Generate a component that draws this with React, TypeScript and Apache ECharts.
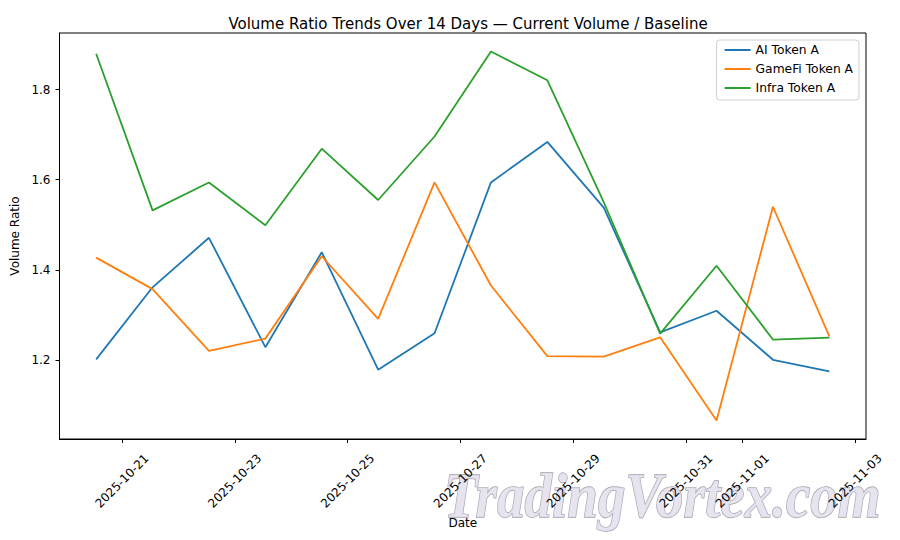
import React, { useEffect, useRef } from "react";
import * as echarts from "echarts";

// Daily sample times (UTC)
const timestamps = [
  "2025-10-20T13:00:00Z", "2025-10-21T13:00:00Z", "2025-10-22T13:00:00Z", "2025-10-23T13:00:00Z",
  "2025-10-24T13:00:00Z", "2025-10-25T13:00:00Z", "2025-10-26T13:00:00Z", "2025-10-27T13:00:00Z",
  "2025-10-28T13:00:00Z", "2025-10-29T13:00:00Z", "2025-10-30T13:00:00Z", "2025-10-31T13:00:00Z",
  "2025-11-01T13:00:00Z", "2025-11-02T13:00:00Z",
];

const aiTokenA = [1.201, 1.361, 1.471, 1.228, 1.439, 1.178, 1.259, 1.594, 1.684, 1.538, 1.261, 1.309, 1.200, 1.174];
const gamefiTokenA = [1.427, 1.357, 1.220, 1.247, 1.430, 1.291, 1.594, 1.365, 1.208, 1.207, 1.250, 1.065, 1.540, 1.252];
const infraTokenA = [1.880, 1.532, 1.594, 1.499, 1.669, 1.555, 1.696, 1.885, 1.821, 1.550, 1.258, 1.409, 1.245, 1.249];

const seriesNames = ["AI Token A", "GameFi Token A", "Infra Token A"];
const seriesColors = ["#1f77b4", "#ff7f0e", "#2ca02c"];

const xTickDates = [
  "2025-10-21", "2025-10-23", "2025-10-25", "2025-10-27",
  "2025-10-29", "2025-10-31", "2025-11-01", "2025-11-03",
];
const yTicks = [1.2, 1.4, 1.6, 1.8];

const FONT = "DejaVu Sans";

function fmtDate(v: number): string {
  const d = new Date(v);
  const mm = String(d.getUTCMonth() + 1).padStart(2, "0");
  const dd = String(d.getUTCDate()).padStart(2, "0");
  return `${d.getUTCFullYear()}-${mm}-${dd}`;
}

export default function App() {
  const ref = useRef<HTMLDivElement>(null);

  useEffect(() => {
    if (!ref.current) return;
    const chart = echarts.init(ref.current, null, { renderer: "svg" });

    const xs = timestamps.map((t) => Date.parse(t));
    const xSpan = xs[xs.length - 1] - xs[0];
    const xMin = xs[0] - 0.05 * xSpan;
    const xMax = xs[xs.length - 1] + 0.05 * xSpan;

    const allY = [...aiTokenA, ...gamefiTokenA, ...infraTokenA];
    const yLo = Math.min(...allY);
    const yHi = Math.max(...allY);
    const yPad = 0.05 * (yHi - yLo);

    const xTicks = xTickDates.map((d) => Date.parse(d + "T00:00:00Z"));
    const values = [aiTokenA, gamefiTokenA, infraTokenA];

    chart.setOption({
      animation: false,
      backgroundColor: "#ffffff",
      textStyle: { fontFamily: FONT },
      title: {
        text: "Volume Ratio Trends Over 14 Days — Current Volume / Baseline",
        left: 463,
        top: 11,
        textAlign: "center",
        textStyle: { fontFamily: FONT, fontSize: 15, fontWeight: "normal", color: "#000" },
      },
      legend: {
        orient: "vertical",
        right: 41,
        top: 40,
        data: seriesNames,
        icon: "rect",
        itemWidth: 26,
        itemHeight: 2,
        itemGap: 5,
        padding: [3, 6, 5, 8],
        backgroundColor: "rgba(255,255,255,0.8)",
        borderColor: "#d0d0d0",
        borderWidth: 1,
        borderRadius: 3,
        textStyle: { fontFamily: FONT, fontSize: 12.3, color: "#000", lineHeight: 14 },
      },
      grid: {
        left: 59.5,
        right: 34,
        top: 33,
        bottom: 101,
        show: true,
        borderColor: "#000",
        borderWidth: 1,
      },
      xAxis: {
        type: "value",
        min: xMin,
        max: xMax,
        name: "Date",
        nameLocation: "middle",
        nameGap: 75,
        nameTextStyle: { fontFamily: FONT, fontSize: 12, color: "#000" },
        splitLine: { show: false },
        axisLine: { show: true, onZero: false, lineStyle: { color: "#000", width: 1 } },
        axisTick: { show: true, length: 4, lineStyle: { color: "#000" }, customValues: xTicks },
        axisLabel: {
          customValues: xTicks,
          formatter: (v: number) => fmtDate(v),
          rotate: 45,
          align: "center",
          verticalAlign: "middle",
          margin: 42,
          fontFamily: FONT,
          fontSize: 12,
          color: "#000",
        },
      },
      yAxis: {
        type: "value",
        min: yLo - yPad,
        max: yHi + yPad,
        name: "Volume Ratio",
        nameLocation: "middle",
        nameGap: 28,
        nameRotate: 90,
        nameTextStyle: { fontFamily: FONT, fontSize: 12, color: "#000" },
        splitLine: { show: false },
        axisLine: { show: true, onZero: false, lineStyle: { color: "#000", width: 1 } },
        axisTick: { show: true, length: 4, lineStyle: { color: "#000" }, customValues: yTicks },
        axisLabel: {
          customValues: yTicks,
          formatter: (v: number) => v.toFixed(1),
          margin: 9,
          fontFamily: FONT,
          fontSize: 12,
          color: "#000",
        },
      },
      series: seriesNames.map((name, i) => ({
        name,
        type: "line",
        data: xs.map((x, j) => [x, values[i][j]]),
        showSymbol: false,
        symbol: "none",
        lineStyle: { color: seriesColors[i], width: 1.8 },
        itemStyle: { color: seriesColors[i] },
      })),
      graphic: [
        {
          type: "text",
          x: 444,
          y: 464,
          scaleX: 0.86,
          z: -10,
          silent: true,
          style: {
            text: "TradingVortex.com",
            font: "italic bold 64px 'Liberation Serif'",
            fill: "rgba(228,225,238,0.9)",
            stroke: "rgba(150,150,160,0.9)",
            lineWidth: 1.3,
            textVerticalAlign: "top",
          },
        },
      ],
    });

    return () => chart.dispose();
  }, []);

  return (
    <div
      ref={ref}
      style={{ position: "fixed", left: 0, top: 0, width: 900, height: 540 }}
    />
  );
}
